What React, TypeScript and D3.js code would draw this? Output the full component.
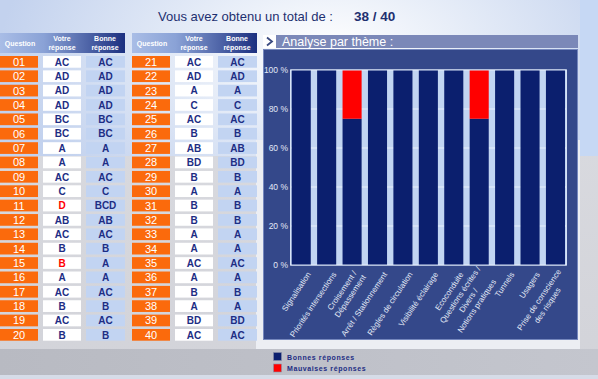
import React from "react";
import * as d3 from "d3";

const questions = ["01","02","03","04","05","06","07","08","09","10","11","12","13","14","15","16","17","18","19","20","21","22","23","24","25","26","27","28","29","30","31","32","33","34","35","36","37","38","39","40"];
const yourAnswers = ["AC","AD","AD","AD","BC","BC","A","A","AC","C","D","AB","AC","B","B","A","AC","B","AC","B","AC","AD","A","C","AC","B","AB","BD","B","A","B","B","A","A","AC","A","B","A","BD","AC"];
const correctAnswers = ["AC","AD","AD","AD","BC","BC","A","A","AC","C","BCD","AB","AC","B","A","A","AC","B","AC","B","AC","AD","A","C","AC","B","AB","BD","B","A","B","B","A","A","AC","A","B","A","BD","AC"];

const themes = ["Signalisation","Priorités intersections","Croisement /\nDépassement","Arrêt / Stationnement","Règles de circulation","Visibilité éclairage","Ecoconduite","Questions écrites /\nDivers /\nNotions pratiques","Tunnels","Usagers","Prise de conscience\ndes risques"];
const goodPct = [100,100,75,100,100,100,100,75,100,100,100];
const badPct = [0,0,25,0,0,0,0,25,0,0,0];
const yTicks = [0,20,40,60,80,100];

const scoreLabel = "Vous avez obtenu un total de :";
const scoreValue = "38 / 40";
const legendItems = ["Bonnes réponses","Mauvaises réponses"];

const FONT = "'Liberation Sans', Arial, sans-serif";
const NAVY = "#0b1f6e";
const RED = "#ff0000";
const ORANGE = "#fb6a0c";

let ctx: CanvasRenderingContext2D | null = null;
function measure(t: string, size: number) {
  if (!ctx) ctx = document.createElement("canvas").getContext("2d");
  if (!ctx) return t.length * size * 0.5;
  ctx.font = `${size}px 'Liberation Sans', Arial`;
  return ctx.measureText(t).width;
}

export default function App() {
  const W = 598, H = 379;
  const rowIds = d3.range(20).map(String);
  const rowY = d3.scaleBand<string>().domain(rowIds).range([56, 340.7]).paddingInner(0.185);
  const x = d3.scaleBand<string>().domain(themes).range([291.7, 565]).paddingInner(0.25).paddingOuter(0);
  const y = d3.scaleLinear().domain([0, 100]).range([265, 70]);
  const labelSize = 8;
  const lh = 10;
  const titleSize = Math.min(15, 15 * 175 / measure(scoreLabel, 15));

  const tables = [0, 1];
  return (
    <svg width={W} height={H} style={{ position: "absolute", left: 0, top: 0, fontFamily: FONT }}>
      <defs>
        <radialGradient id="topglow" cx="330" cy="50" r="330" gradientUnits="userSpaceOnUse" gradientTransform="translate(330,50) scale(1,0.55) translate(-330,-50)">
          <stop offset="0" stopColor="#ffffff" />
          <stop offset="0.45" stopColor="#e4ebf7" />
          <stop offset="1" stopColor="#c3d2ee" />
        </radialGradient>
        <linearGradient id="hdr" x1="0" x2="1" y1="0" y2="0">
          <stop offset="0" stopColor="#a9bde6" />
          <stop offset="0.35" stopColor="#8aa2d6" />
          <stop offset="1" stopColor="#1c3080" />
        </linearGradient>
        <linearGradient id="bottomband" x1="0" x2="1" y1="0" y2="0">
          <stop offset="0" stopColor="#b8bac2" />
          <stop offset="1" stopColor="#c4c6ce" />
        </linearGradient>
        <linearGradient id="graybg" x1="0" x2="0" y1="0" y2="1">
          <stop offset="0" stopColor="#dcdde2" />
          <stop offset="1" stopColor="#d2d3d9" />
        </linearGradient>
      </defs>

      {/* background */}
      <rect x={0} y={0} width={W} height={H} fill="url(#graybg)" />
      <rect x={0} y={0} width={W} height={156} fill="url(#topglow)" />
      <rect x={580} y={0} width={18} height={156} fill="#c6d8f4" />
      <rect x={256} y={140} width={324} height={209} fill="#eceef3" />
      <rect x={0} y={349} width={W} height={26} fill="url(#bottomband)" />
      <rect x={0} y={375} width={W} height={4} fill="#d6dce8" />

      {/* title */}
      <text x={158} y={21} fontSize={titleSize} fill="#1e3070">{scoreLabel}</text>
      <text x={354} y={21} fontSize={13.5} fontWeight="bold" fill="#1e3070">{scoreValue}</text>

      {/* tables */}
      {tables.map((t) => {
        const ox = t * 132;
        return (
          <g key={t}>
            <rect x={ox} y={33} width={125} height={20} fill="url(#hdr)" />
            <text x={ox + 20} y={46} fontSize={7} fontWeight="bold" fill="#ffffff" textAnchor="middle">Question</text>
            <text x={ox + 62} y={41} fontSize={7} fontWeight="bold" fill="#ffffff" textAnchor="middle">Votre</text>
            <text x={ox + 62} y={50} fontSize={7} fontWeight="bold" fill="#ffffff" textAnchor="middle">réponse</text>
            <text x={ox + 105} y={41} fontSize={7} fontWeight="bold" fill="#ffffff" textAnchor="middle">Bonne</text>
            <text x={ox + 105} y={50} fontSize={7} fontWeight="bold" fill="#ffffff" textAnchor="middle">réponse</text>
            {rowIds.map((r, i) => {
              const qi = t * 20 + i;
              const yy = rowY(r)!;
              const h = rowY.bandwidth();
              const wrong = yourAnswers[qi] !== correctAnswers[qi];
              return (
                <g key={r}>
                  <rect x={ox} y={yy} width={38} height={h} fill={ORANGE} />
                  <rect x={ox + 43} y={yy} width={38} height={h} fill="#ffffff" />
                  <rect x={ox + 86} y={yy} width={39} height={h} fill="#c2d4f2" />
                  <text x={ox + 19} y={yy + h / 2 + 4} fontSize={11} fill="#ffffff" textAnchor="middle">{questions[qi]}</text>
                  <text x={ox + 62} y={yy + h / 2 + 3.8} fontSize={10} fontWeight="bold" fill={wrong ? RED : "#1d2d84"} textAnchor="middle">{yourAnswers[qi]}</text>
                  <text x={ox + 105.5} y={yy + h / 2 + 3.8} fontSize={10} fontWeight="bold" fill="#1d2d84" textAnchor="middle">{correctAnswers[qi]}</text>
                </g>
              );
            })}
          </g>
        );
      })}

      {/* panel */}
      <rect x={263} y={35} width={315} height={13} fill="#7b88b8" />
      <rect x={263} y={35} width={13} height={13} fill="#ffffff" />
      <path d="M267,37.5 L272,41.5 L267,45.5" fill="none" stroke="#3a4a80" strokeWidth={1.8} />
      <text x={282} y={46} fontSize={12.5} fill="#ffffff">Analyse par thème :</text>
      <rect x={263.5} y={49.5} width={314} height={290} fill="#34488a" stroke="#7587bd" strokeWidth={1} />

      {/* plot */}
      <rect x={290.5} y={y(100)} width={276} height={y(0) - y(100)} fill="#c2d5f2" />
      {yTicks.map((t) => (
        <g key={t}>
          <line x1={290.5} x2={566.5} y1={y(t)} y2={y(t)} stroke="#e8f0fc" strokeWidth={1} />
          <text x={288} y={y(t) + 3} fontSize={8.5} fill="#e2e8f6" textAnchor="end">{`${t} %`}</text>
        </g>
      ))}
      {themes.map((th, i) => (
        <g key={th}>
          <rect x={x(th)} y={y(goodPct[i])} width={x.bandwidth()} height={y(0) - y(goodPct[i])} fill={NAVY} />
          {badPct[i] > 0 && (
            <rect x={x(th)} y={y(goodPct[i] + badPct[i])} width={x.bandwidth()} height={y(goodPct[i]) - y(goodPct[i] + badPct[i])} fill={RED} />
          )}
        </g>
      ))}
      <rect x={290.5} y={y(100)} width={276} height={y(0) - y(100)} fill="none" stroke="#d6e2f6" strokeWidth={1} />

      {/* x labels */}
      {themes.map((th) => {
        const lines = th.split("\n");
        const L = Math.max(...lines.map((l) => measure(l, labelSize)));
        const ax = x(th)! + x.bandwidth() / 2 + 8;
        const ay = 273;
        return (
          <g key={th} transform={`translate(${ax},${ay}) rotate(-56)`}>
            {lines.map((l, j) => (
              <text key={j} x={-L / 2} y={(j - (lines.length - 1) / 2) * lh + 2.5} fontSize={labelSize} fill="#e2e8f6" textAnchor="middle">{l}</text>
            ))}
          </g>
        );
      })}

      {/* legend */}
      {legendItems.map((l, i) => (
        <g key={l}>
          <rect x={273.5} y={352.5 + i * 11.5} width={8} height={8} fill={i === 0 ? NAVY : RED} stroke="#8a90a8" strokeWidth={0.6} />
          <text x={287} y={359.5 + i * 11.5} fontSize={7} fontWeight="bold" fill="#1d2d84" letterSpacing={0.6}>{l}</text>
        </g>
      ))}
    </svg>
  );
}
